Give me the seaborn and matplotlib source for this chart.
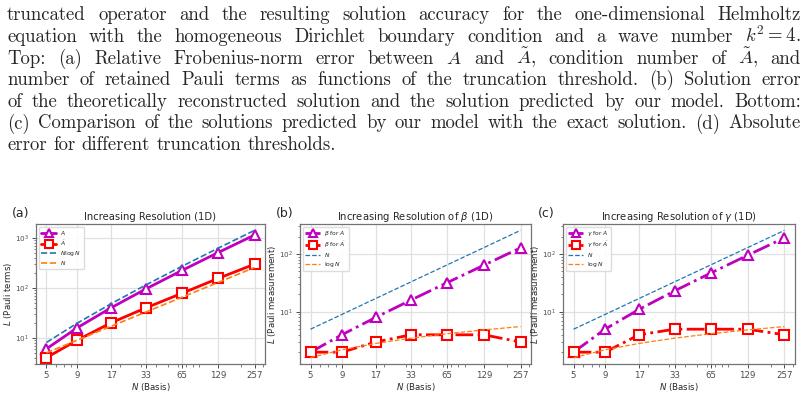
import matplotlib
matplotlib.use('Agg')
import matplotlib.pyplot as plt
import matplotlib.ticker as mticker
import seaborn as sns

# Данные
basis = [5, 9, 17, 33, 65, 129, 257]
basis_labels = ['5', '9', '17', '33', '65', '129', '257']

# (a) число членов Паули
terms_A = [6, 16, 40, 96, 224, 512, 1152]
terms_At = [4, 9, 20, 40, 78, 155, 300]
ref_nlogn = [8.05, 19.78, 48.16, 115.38, 271.33, 626.89, 1426.11]
ref_n = [5, 9, 17, 33, 65, 129, 257]

# (b) beta
beta_A = [2, 4, 8, 16, 32, 64, 128]
beta_At = [2, 2, 3, 4, 4, 4, 3]
# (c) gamma
gamma_A = [2, 5, 11, 23, 47, 95, 191]
gamma_At = [2, 2, 4, 5, 5, 5, 4]
ref_logn = [1.609, 2.197, 2.833, 3.497, 4.174, 4.860, 5.549]

caption_lines = [
    "truncated operator and the resulting solution accuracy for the one-dimensional Helmholtz",
    "equation with the homogeneous Dirichlet boundary condition and a wave number $k^2=4$.",
    "Top:  (a) Relative Frobenius-norm error between $A$ and $\\tilde{A}$, condition number of $\\tilde{A}$, and",
    "number of retained Pauli terms as functions of the truncation threshold. (b) Solution error",
    "of the theoretically reconstructed solution and the solution predicted by our model. Bottom:",
    "(c) Comparison of the solutions predicted by our model with the exact solution. (d) Absolute",
    "error for different truncation thresholds.",
]

sns.set_theme(style='whitegrid', rc={
    'axes.edgecolor': '0.45',
    'axes.linewidth': 0.9,
    'grid.color': '0.88',
    'grid.linewidth': 0.9,
    'xtick.bottom': True,
    'ytick.left': True,
    'xtick.color': '0.3',
    'ytick.color': '0.3',
    'xtick.major.size': 3,
    'ytick.major.size': 3,
    'xtick.minor.size': 1.8,
    'ytick.minor.size': 1.8,
    'xtick.major.width': 0.7,
    'ytick.major.width': 0.7,
    'xtick.minor.width': 0.5,
    'ytick.minor.width': 0.5,
    'xtick.major.pad': 2,
    'ytick.major.pad': 2,
})
plt.rcParams['font.family'] = ['DejaVu Sans']
plt.rcParams['mathtext.fontset'] = 'dejavusans'

W, H = 808, 420
fig = plt.figure(figsize=(W / 100, H / 100), dpi=100)

MAG = '#bf00bf'
RED = '#ff0000'
BLUE = '#1f77b4'
ORANGE = '#ff7f0e'
FS = 6.2

boxes = [(36, 229), (300, 231), (563, 232)]
axes = [fig.add_axes([l / W, (H - 364) / H, w / W, 140 / H]) for l, w in boxes]

mk = dict(markersize=7, markerfacecolor='white', markeredgewidth=1.5)

# (a)
ax = axes[0]
sns.lineplot(x=basis, y=terms_A, ax=ax, color=MAG, lw=2, marker='^', markeredgecolor=MAG,
             label='$A$', **mk)
sns.lineplot(x=basis, y=terms_At, ax=ax, color=RED, lw=2, marker='s', markeredgecolor=RED,
             label='$\\tilde{A}$', **mk)
sns.lineplot(x=basis, y=ref_nlogn, ax=ax, color=BLUE, lw=1.2, linestyle='--', label='$N\\log N$')
sns.lineplot(x=basis, y=ref_n, ax=ax, color=ORANGE, lw=1.2, linestyle='--', label='$N$')
ax.set_title('Increasing Resolution (1D)', fontsize=7.2, pad=3)
ax.set_ylabel('$L$ (Pauli terms)', fontsize=FS, labelpad=1)

# (b), (c)
for ax, sym, vA, vAt in [(axes[1], '\\beta', beta_A, beta_At), (axes[2], '\\gamma', gamma_A, gamma_At)]:
    sns.lineplot(x=basis, y=vA, ax=ax, color=MAG, lw=2, linestyle='-.', marker='^',
                 markeredgecolor=MAG, label=f'${sym}$ for $A$', **mk)
    sns.lineplot(x=basis, y=vAt, ax=ax, color=RED, lw=2, linestyle='-.', marker='s',
                 markeredgecolor=RED, label=f'${sym}$ for $\\tilde{{A}}$', **mk)
    sns.lineplot(x=basis, y=ref_n, ax=ax, color=BLUE, lw=0.9, linestyle='--', label='$N$')
    sns.lineplot(x=basis, y=ref_logn, ax=ax, color=ORANGE, lw=0.9, linestyle='--', label='$\\log N$')
    ax.set_title(f'Increasing Resolution of ${sym}$ (1D)', fontsize=7.2, pad=3)
    ax.set_ylabel('$L$ (Pauli measurement)', fontsize=FS, labelpad=1)

for ax in axes:
    ax.set_xscale('log')
    ax.set_yscale('log')
    ax.xaxis.set_major_locator(mticker.FixedLocator(basis))
    ax.xaxis.set_major_formatter(mticker.FixedFormatter(basis_labels))
    ax.xaxis.set_minor_formatter(mticker.NullFormatter())
    ax.yaxis.set_minor_formatter(mticker.NullFormatter())
    ax.tick_params(axis='x', labelsize=FS)
    ax.tick_params(axis='y', labelsize=5.2)
    ax.set_xlabel('$N$ (Basis)', fontsize=FS, labelpad=1)
    ax.grid(True, which='major')
    ax.grid(False, which='minor')
    ax.legend(loc='upper left', fontsize=4.3, handlelength=2.4, labelspacing=0.2,
              borderpad=0.4, markerscale=0.85, framealpha=0.9, edgecolor='0.85')

for lbl, x in [('(a)', 12), ('(b)', 276), ('(c)', 538)]:
    fig.text(x / W, 1 - 217 / H, lbl, fontsize=9, va='baseline')

# Подпись (текст над графиками), выровненная по ширине
renderer = fig.canvas.get_renderer()
x0, x1 = 7, 801
cap_font = dict(fontsize=13.5, family=['cmr10', 'DejaVu Serif'], va='baseline')
for i, line in enumerate(caption_lines):
    y = 1 - (20.5 + 21.6 * i) / H
    words = line.split()
    texts = [fig.text(0, y, w, math_fontfamily='cm', **cap_font) for w in words]
    widths = [t.get_window_extent(renderer).width for t in texts]
    if i < len(caption_lines) - 1:
        gap = max(3.0, (x1 - x0 - sum(widths)) / (len(words) - 1))
    else:
        gap = 6.5
    x = x0
    for t, w in zip(texts, widths):
        t.set_x(x / W)
        x += w + gap

fig.savefig('out.png', dpi=100)
